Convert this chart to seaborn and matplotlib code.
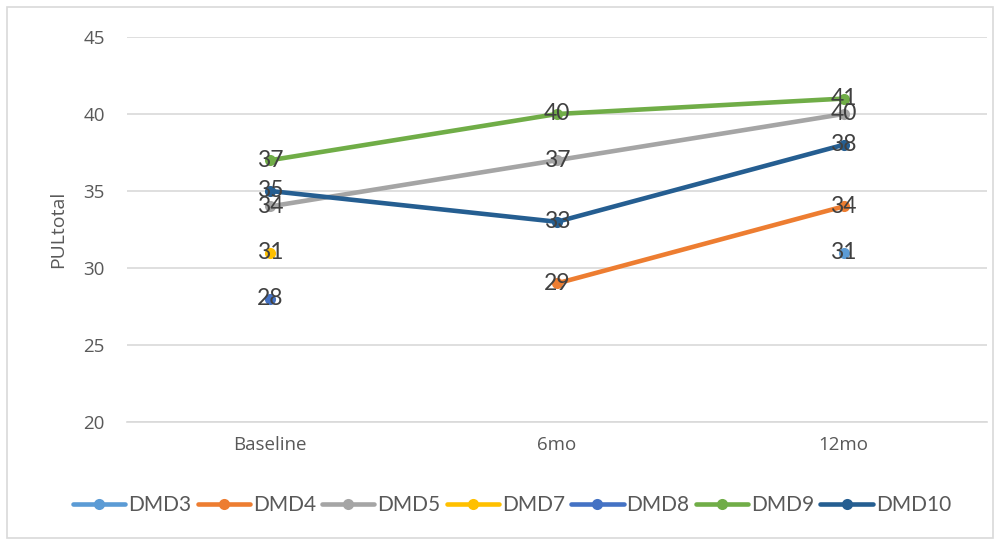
import matplotlib
matplotlib.use("Agg")
import matplotlib.pyplot as plt
from matplotlib.patches import Rectangle
import pandas as pd
import seaborn as sns

# Visits on the x axis
visits = ["Baseline", "6mo", "12mo"]

# PULtotal score per patient at each visit (None = not assessed)
dmd3 = [None, None, 31]
dmd4 = [None, 29, 34]
dmd5 = [34, 37, 40]
dmd7 = [31, None, None]
dmd8 = [28, None, None]
dmd9 = [37, 40, 41]
dmd10 = [35, 33, 38]

series_names = ["DMD3", "DMD4", "DMD5", "DMD7", "DMD8", "DMD9", "DMD10"]
series_values = [dmd3, dmd4, dmd5, dmd7, dmd8, dmd9, dmd10]
series_colors = ["#5B9BD5", "#ED7D31", "#A5A5A5", "#FFC000", "#4472C4", "#70AD47", "#255E91"]

yticks = [20, 25, 30, 35, 40, 45]

sns.set_theme(style="white")
plt.rcParams["font.family"] = ["Open Sans", "DejaVu Sans"]
label_font = ["Lato", "DejaVu Sans"]

rows = []
for name, vals in zip(series_names, series_values):
    for i, v in enumerate(vals):
        if v is not None:
            rows.append({"patient": name, "visit": i, "score": v})
df = pd.DataFrame(rows)

fig = plt.figure(figsize=(10, 5.4), dpi=100)
ax = fig.add_axes([0.127, 0.2185, 0.86, 0.713])

palette = dict(zip(series_names, series_colors))
sns.lineplot(data=df, x="visit", y="score", hue="patient", hue_order=series_names,
             palette=palette, marker="o", markersize=8, markeredgewidth=0,
             linewidth=3.3, sort=False, ax=ax, legend=False, zorder=3)

# Value labels centred on each marker
for name, vals in zip(series_names, series_values):
    for i, v in enumerate(vals):
        if v is not None:
            ax.text(i, v, str(v), ha="center", va="center", fontsize=16.5,
                    family=label_font, color="#404040", zorder=5)

ax.set_xlim(-0.5, 2.5)
ax.set_ylim(20, 45)
ax.set_xticks(range(len(visits)))
ax.set_xticklabels(visits)
ax.set_yticks(yticks)
ax.grid(axis="y", color="#D9D9D9", linewidth=1.2)
ax.grid(axis="x", visible=False)
ax.set_axisbelow(True)
for side in ["top", "right", "left"]:
    ax.spines[side].set_visible(False)
ax.spines["bottom"].set_color("#D9D9D9")
ax.spines["bottom"].set_linewidth(1.2)
ax.tick_params(axis="both", length=0, labelsize=13.5, labelcolor="#595959")
ax.tick_params(axis="y", pad=16)
ax.tick_params(axis="x", pad=10)
ax.set_xlabel("")
ax.set_ylabel("PULtotal", fontsize=14, color="#595959")
ax.yaxis.set_label_coords(-0.07, 0.5)

handles = [plt.Line2D([0], [0], color=c, linewidth=3.3, marker="o", markersize=8,
                      markeredgewidth=0) for c in series_colors]
fig.legend(handles, series_names, loc="center", bbox_to_anchor=(0.512, 0.064), ncol=7,
           frameon=False, handlelength=2.5, handletextpad=0.15, columnspacing=0.3,
           prop={"family": label_font, "size": 15}, labelcolor="#595959")

fig.patches.append(Rectangle((0.007, 0.004), 0.986, 0.983, transform=fig.transFigure,
                             fill=False, edgecolor="#D9D9D9", linewidth=1.2))

fig.savefig("out.png", dpi=100)
